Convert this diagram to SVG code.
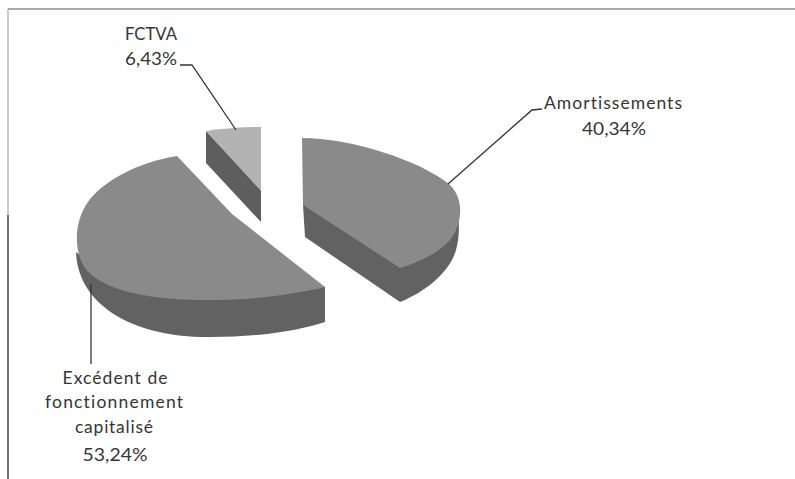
<svg xmlns="http://www.w3.org/2000/svg" width="795" height="479" viewBox="0 0 795 479">
<style>
.lbl{font-family:Lato,"Liberation Sans",sans-serif;font-size:17.5px;fill:#353535;text-anchor:middle;font-variant-ligatures:none}
.lead{fill:none;stroke:#333;stroke-width:1.3}
.top{fill:#8a8a8a}
.side{fill:#626262}
</style>
<rect x="0" y="0" width="795" height="479" fill="#fff"/>
<g id="frame">
<line x1="8" y1="9" x2="795" y2="9" stroke="#8c8c8c" stroke-width="1.5"/>
<line x1="8" y1="9" x2="8" y2="215" stroke="#a8a8a8" stroke-width="1.2"/>
<line x1="8" y1="215" x2="8" y2="479" stroke="#333" stroke-width="1.4"/>
</g>
<g id="slice-excedent">
<path class="side" d="M76,252 C78,305 132,335 200,337 C260,338 300,330 325,322 L325,287 L80,255 Z"/>
<path class="top" d="M177,156 C138,162 100,182 86,205 C74,224 74,252 85,268 C100,288 140,299 200,300 C250,301 295,294 325,287 L232,214 Z"/>
</g>
<g id="slice-amortissements">
<path class="side" d="M303,205 L305,237 L400,302 C425,292 450,272 456,250 C460,235 459,222 458,212 Z"/>
<path class="top" fill="#8c8c8c" d="M302,138 C350,138 420,160 450,185 C465,200 462,225 450,240 C438,253 420,262 400,268 L303,205 Z"/>
</g>
<g id="slice-fctva">
<path fill="#5e5e5e" d="M206,131 L261,190 L261,222 L206,163 Z"/>
<path fill="#b3b3b3" d="M206,131 Q233,127 261,127 L261,191 Z"/>
</g>
<g id="connectors">
<polyline class="lead" points="180,65 192,65 236,130"/>
<polyline class="lead" points="542,109 532,110 448,184"/>
<line class="lead" x1="91" y1="284" x2="91" y2="364"/>
</g>
<g id="label-fctva">
<text class="lbl" x="151" y="40" textLength="52" lengthAdjust="spacingAndGlyphs">FCTVA</text>
<text class="lbl" x="151" y="65" textLength="52" lengthAdjust="spacingAndGlyphs">6,43%</text>
</g>
<g id="label-amortissements">
<text class="lbl" x="613" y="109" textLength="138" lengthAdjust="spacing">Amortissements</text>
<text class="lbl" x="614" y="135" textLength="64" lengthAdjust="spacingAndGlyphs">40,34%</text>
</g>
<g id="label-excedent">
<text class="lbl" x="115" y="384" textLength="105" lengthAdjust="spacing">Excédent de</text>
<text class="lbl" x="114" y="408" textLength="138" lengthAdjust="spacing">fonctionnement</text>
<text class="lbl" x="114" y="433" textLength="78" lengthAdjust="spacing">capitalisé</text>
<text class="lbl" x="115" y="461" textLength="65" lengthAdjust="spacingAndGlyphs">53,24%</text>
</g>
</svg>
